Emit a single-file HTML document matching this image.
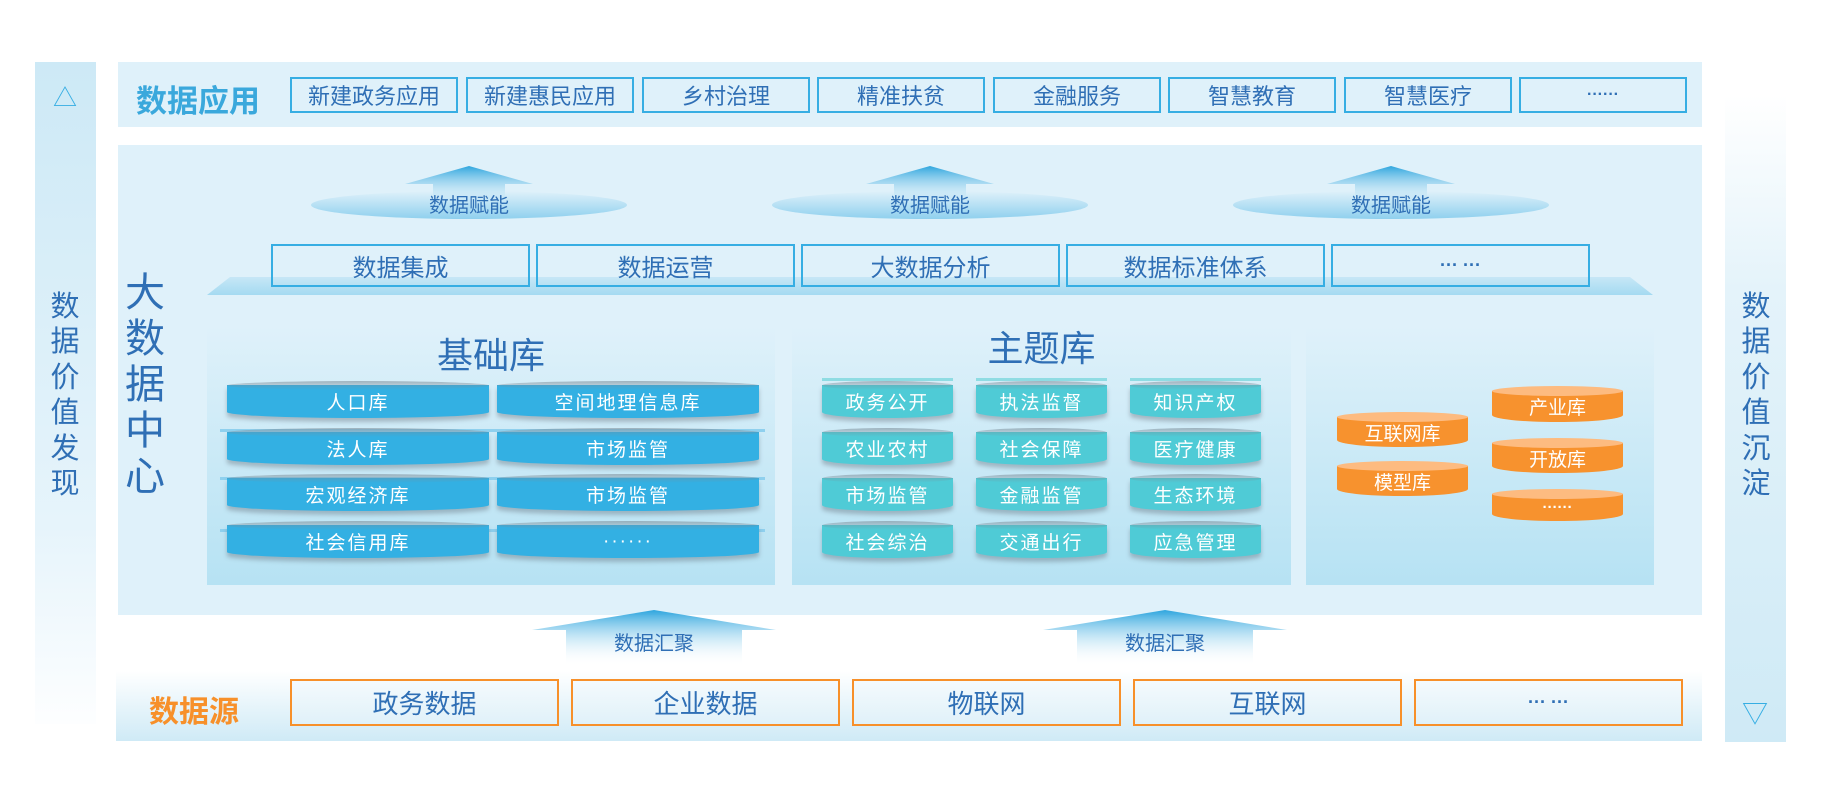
<!DOCTYPE html>
<html><head><meta charset="utf-8"><style>
*{margin:0;padding:0;box-sizing:border-box}
body{width:1830px;height:796px;background:#fff;position:relative;overflow:hidden;font-family:"Liberation Sans","Noto Sans CJK SC",sans-serif}
.a{position:absolute}
.vt{position:absolute;color:#2f6fb5;text-align:center;line-height:1.22}
.box{position:absolute;border:2px solid #36aee3;color:#2f6fb5;display:flex;align-items:center;justify-content:center}
.ob{position:absolute;border:2px solid #f7902a;color:#2f6fb5;display:flex;align-items:center;justify-content:center;font-size:26px;background:linear-gradient(#f4fafd,#e0f1f9)}
.cyl{position:absolute;height:33px;color:#fff;font-size:19px;display:flex;align-items:center;justify-content:center;border-radius:0 0 50% 50%/0 0 6px 6px;box-shadow:0 4px 4px rgba(80,90,100,.35);letter-spacing:2px}
.cyl:before{content:"";position:absolute;left:0;right:0;top:-4px;height:9px;border-radius:50%;background:linear-gradient(#7a8a95,transparent);opacity:.6}
.b{background:#33b0e3}
.t{background:#4fcbd6}
.o{position:absolute;background:#f7922e;color:#fff;font-size:19px;display:flex;align-items:center;justify-content:center;border-radius:0 0 50% 50%/0 0 7px 7px}
.o:before{content:"";position:absolute;left:0;right:0;top:-5px;height:10px;background:#fdbb80;border-radius:50%}
.line{position:absolute;height:3px}
</style></head><body>
<div class="a" style="left:35px;top:62px;width:61px;height:662px;background:linear-gradient(#cde9f6,#e6f4fb 70%,#fdfeff)"></div>
<div class="a" style="left:53px;top:78px;font-size:24px;color:#36aee3">△</div>
<div class="vt" style="left:40px;top:290px;width:50px;font-size:29px">数<br>据<br>价<br>值<br>发<br>现</div>
<div class="a" style="left:1725px;top:95px;width:61px;height:647px;background:linear-gradient(#ffffff,#e4f3fa 30%,#cfeaf6)"></div>
<div class="vt" style="left:1731px;top:290px;width:50px;font-size:29px">数<br>据<br>价<br>值<br>沉<br>淀</div>
<div class="a" style="left:1742px;top:694px;font-size:26px;color:#36aee3">▽</div>
<div class="a" style="left:118px;top:62px;width:1584px;height:65px;background:#dff1fa"></div>
<div class="a" style="left:136px;top:76px;font-size:31px;font-weight:bold;color:#3aa8dc">数据应用</div>
<div class="box" style="left:290px;top:77px;width:168px;height:36px;font-size:22px">新建政务应用</div>
<div class="box" style="left:466px;top:77px;width:168px;height:36px;font-size:22px">新建惠民应用</div>
<div class="box" style="left:642px;top:77px;width:168px;height:36px;font-size:22px">乡村治理</div>
<div class="box" style="left:817px;top:77px;width:168px;height:36px;font-size:22px">精准扶贫</div>
<div class="box" style="left:993px;top:77px;width:168px;height:36px;font-size:22px">金融服务</div>
<div class="box" style="left:1168px;top:77px;width:168px;height:36px;font-size:22px">智慧教育</div>
<div class="box" style="left:1344px;top:77px;width:168px;height:36px;font-size:22px">智慧医疗</div>
<div class="box" style="left:1519px;top:77px;width:168px;height:36px;font-size:16px;font-weight:bold">······</div>
<div class="a" style="left:118px;top:145px;width:1584px;height:470px;background:#dff1fa"></div>
<div class="vt" style="left:120px;top:270px;width:50px;font-size:40px;line-height:1.15">大<br>数<br>据<br>中<br>心</div>
<svg class="a" style="left:0;top:0" width="1830" height="796">
<defs>
<linearGradient id="g1" x1="0" y1="0" x2="0" y2="1"><stop offset="0" stop-color="#2fa6de"/><stop offset="1" stop-color="#dff1fa" stop-opacity="0"/></linearGradient>
<linearGradient id="g2" x1="0" y1="0" x2="0" y2="1"><stop offset="0" stop-color="#dff1fa"/><stop offset="1" stop-color="#8fd0ee"/></linearGradient>
<linearGradient id="g3" x1="0" y1="0" x2="0" y2="1"><stop offset="0" stop-color="#c7e7f6"/><stop offset="1" stop-color="#a4daf1"/></linearGradient>
<linearGradient id="g4" x1="0" y1="0" x2="0" y2="1"><stop offset="0" stop-color="#2fa6de"/><stop offset="1" stop-color="#ffffff" stop-opacity="0"/></linearGradient>
</defs>
<ellipse cx="469" cy="205" rx="158" ry="14" fill="url(#g2)"/>
<path d="M405 184 L469 166 L533 184 L505 184 L505 205 L433 205 L433 184 Z" fill="url(#g1)"/>
<ellipse cx="930" cy="205" rx="158" ry="14" fill="url(#g2)"/>
<path d="M866 184 L930 166 L994 184 L966 184 L966 205 L894 205 L894 184 Z" fill="url(#g1)"/>
<ellipse cx="1391" cy="205" rx="158" ry="14" fill="url(#g2)"/>
<path d="M1327 184 L1391 166 L1455 184 L1427 184 L1427 205 L1355 205 L1355 184 Z" fill="url(#g1)"/>
<path d="M230 277 L1630 277 L1653 295 L207 295 Z" fill="url(#g3)"/>
<path d="M532 630 L654 610 L776 630 L742 630 L742 666 L566 666 L566 630 Z" fill="url(#g4)"/>
<path d="M1043 630 L1165 610 L1287 630 L1253 630 L1253 666 L1077 666 L1077 630 Z" fill="url(#g4)"/>
</svg>
<div class="a" style="left:409px;top:189px;width:120px;text-align:center;font-size:20px;color:#2f6fb5">数据赋能</div>
<div class="a" style="left:870px;top:189px;width:120px;text-align:center;font-size:20px;color:#2f6fb5">数据赋能</div>
<div class="a" style="left:1331px;top:189px;width:120px;text-align:center;font-size:20px;color:#2f6fb5">数据赋能</div>
<div class="box" style="left:271px;top:244px;width:259px;height:43px;font-size:24px">数据集成</div>
<div class="box" style="left:536px;top:244px;width:259px;height:43px;font-size:24px">数据运营</div>
<div class="box" style="left:801px;top:244px;width:259px;height:43px;font-size:24px">大数据分析</div>
<div class="box" style="left:1066px;top:244px;width:259px;height:43px;font-size:24px">数据标准体系</div>
<div class="box" style="left:1331px;top:244px;width:259px;height:43px;font-size:18px;font-weight:bold">··· ···</div>
<div class="a" style="left:207px;top:327px;width:568px;height:258px;background:linear-gradient(#dff1fa,#b6e2f3)"></div>
<div class="a" style="left:792px;top:327px;width:499px;height:258px;background:linear-gradient(#dff1fa,#b6e2f3)"></div>
<div class="a" style="left:1306px;top:327px;width:348px;height:258px;background:linear-gradient(#dff1fa,#b6e2f3)"></div>
<div class="a" style="left:207px;top:327px;width:568px;text-align:center;font-size:36px;color:#2f6fb5">基础库</div>
<div class="a" style="left:792px;top:320px;width:499px;text-align:center;font-size:36px;color:#2f6fb5">主题库</div>
<div class="line" style="left:220px;top:429px;width:545px;background:#8fd0ee"></div>
<div class="line" style="left:220px;top:477px;width:545px;background:#8fd0ee"></div>
<div class="line" style="left:220px;top:529px;width:545px;background:#8fd0ee"></div>
<div class="cyl b" style="left:227px;top:385px;width:262px">人口库</div>
<div class="cyl b" style="left:497px;top:385px;width:262px">空间地理信息库</div>
<div class="cyl b" style="left:227px;top:432px;width:262px">法人库</div>
<div class="cyl b" style="left:497px;top:432px;width:262px">市场监管</div>
<div class="cyl b" style="left:227px;top:478px;width:262px">宏观经济库</div>
<div class="cyl b" style="left:497px;top:478px;width:262px">市场监管</div>
<div class="cyl b" style="left:227px;top:525px;width:262px">社会信用库</div>
<div class="cyl b" style="left:497px;top:525px;width:262px">······</div>
<div class="line" style="left:822px;top:378px;width:131px;background:#8fdce3"></div>
<div class="line" style="left:976px;top:378px;width:131px;background:#8fdce3"></div>
<div class="line" style="left:1130px;top:378px;width:131px;background:#8fdce3"></div>
<div class="cyl t" style="left:822px;top:385px;width:131px">政务公开</div>
<div class="cyl t" style="left:976px;top:385px;width:131px">执法监督</div>
<div class="cyl t" style="left:1130px;top:385px;width:131px">知识产权</div>
<div class="cyl t" style="left:822px;top:432px;width:131px">农业农村</div>
<div class="cyl t" style="left:976px;top:432px;width:131px">社会保障</div>
<div class="cyl t" style="left:1130px;top:432px;width:131px">医疗健康</div>
<div class="cyl t" style="left:822px;top:478px;width:131px">市场监管</div>
<div class="cyl t" style="left:976px;top:478px;width:131px">金融监管</div>
<div class="cyl t" style="left:1130px;top:478px;width:131px">生态环境</div>
<div class="cyl t" style="left:822px;top:525px;width:131px">社会综治</div>
<div class="cyl t" style="left:976px;top:525px;width:131px">交通出行</div>
<div class="cyl t" style="left:1130px;top:525px;width:131px">应急管理</div>
<div class="o" style="left:1337px;top:417px;width:131px;height:30px">互联网库</div>
<div class="o" style="left:1337px;top:466px;width:131px;height:30px">模型库</div>
<div class="o" style="left:1492px;top:391px;width:131px;height:31px">产业库</div>
<div class="o" style="left:1492px;top:443px;width:131px;height:30px">开放库</div>
<div class="o" style="left:1492px;top:494px;width:131px;height:27px;font-size:15px;font-weight:bold">······</div>
<div class="a" style="left:594px;top:627px;width:120px;text-align:center;font-size:20px;color:#2f6fb5">数据汇聚</div>
<div class="a" style="left:1105px;top:627px;width:120px;text-align:center;font-size:20px;color:#2f6fb5">数据汇聚</div>
<div class="a" style="left:116px;top:671px;width:1586px;height:70px;background:linear-gradient(#ffffff,#cfeaf6)"></div>
<div class="a" style="left:149px;top:687px;font-size:30px;font-weight:bold;color:#f7902a">数据源</div>
<div class="ob" style="left:290px;top:679px;width:269px;height:47px">政务数据</div>
<div class="ob" style="left:571px;top:679px;width:269px;height:47px">企业数据</div>
<div class="ob" style="left:852px;top:679px;width:269px;height:47px">物联网</div>
<div class="ob" style="left:1133px;top:679px;width:269px;height:47px">互联网</div>
<div class="ob" style="left:1414px;top:679px;width:269px;height:47px;font-size:18px;font-weight:bold">··· ···</div>
</body></html>
